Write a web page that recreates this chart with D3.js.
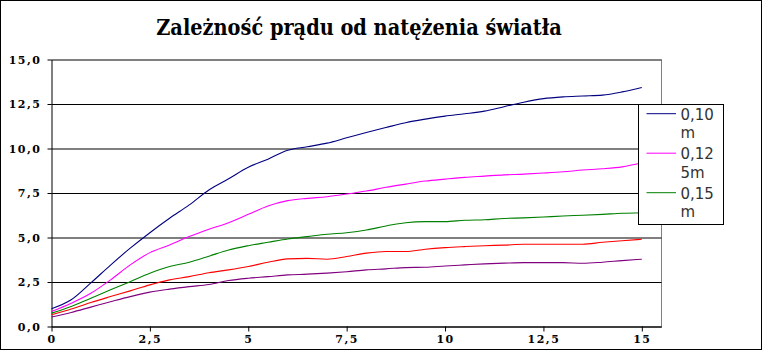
<!DOCTYPE html>
<html>
  <head>
    <meta charset="utf-8">
    <title>Zależność prądu od natężenia światła</title>
    <script src="https://cdn.jsdelivr.net/npm/d3@7"></script>
    <style>
      body { margin: 0; background: #fff; }
      svg { display: block; }
      .axis text { font-family: "DejaVu Serif", serif; font-weight: bold; font-size: 11px; letter-spacing: 1.5px; fill: #000; }
      .axis path, .axis line { stroke: #000; }
      .grid line { stroke: #000; }
      .grid path { display: none; }
      .legend text { font-family: "DejaVu Sans", sans-serif; font-size: 15px; fill: #333; }
    </style>
  </head>

  <body>
    <div id="container"></div>

    <script>
      // data
      xValues = [0, 0.5, 1, 1.5, 2, 2.5, 3, 3.5, 4, 4.5, 5, 5.5, 6, 6.5, 7, 7.5, 8, 8.5, 9, 9.5, 10, 10.5, 11, 11.5, 12, 12.5, 13, 13.5, 14, 14.5, 15];
      s010 = [1.0, 1.5, 2.45, 3.45, 4.4, 5.27, 6.08, 6.83, 7.67, 8.3, 8.95, 9.4, 9.9, 10.1, 10.3, 10.6, 10.9, 11.18, 11.45, 11.65, 11.82, 11.95, 12.1, 12.35, 12.6, 12.8, 12.9, 12.95, 13.0, 13.18, 13.43];
      s0125 = [0.84, 1.31, 1.87, 2.62, 3.46, 4.15, 4.58, 5.05, 5.46, 5.83, 6.3, 6.77, 7.07, 7.2, 7.29, 7.44, 7.61, 7.82, 8.0, 8.17, 8.28, 8.38, 8.45, 8.52, 8.56, 8.62, 8.69, 8.79, 8.86, 8.97, 9.2];
      s015 = [0.75, 1.12, 1.59, 2.06, 2.52, 2.99, 3.37, 3.61, 3.95, 4.3, 4.54, 4.73, 4.92, 5.05, 5.18, 5.27, 5.42, 5.65, 5.83, 5.89, 5.89, 5.97, 6.0, 6.07, 6.1, 6.15, 6.21, 6.25, 6.3, 6.36, 6.39];
      s4 = [0.66, 0.98, 1.35, 1.68, 2.0, 2.34, 2.62, 2.8, 3.02, 3.18, 3.37, 3.61, 3.8, 3.83, 3.78, 3.93, 4.12, 4.21, 4.21, 4.34, 4.43, 4.49, 4.54, 4.57, 4.62, 4.62, 4.62, 4.62, 4.73, 4.82, 4.9];
      s5 = [0.53, 0.79, 1.09, 1.39, 1.68, 1.93, 2.1, 2.24, 2.36, 2.58, 2.71, 2.8, 2.9, 2.94, 3.0, 3.08, 3.18, 3.24, 3.31, 3.33, 3.4, 3.46, 3.52, 3.56, 3.59, 3.59, 3.59, 3.55, 3.61, 3.7, 3.78];

      seriesNames = ["0,10 m", "0,125m", "0,15 m"];
      seriesValues = [s010, s0125, s015, s4, s5];
      colours = ["#000080", "#ff00ff", "#008000", "#ff0000", "#800080"];

      xTicks = [0, 2.5, 5, 7.5, 10, 12.5, 15];
      xTickLabels = ["0", "2,5", "5", "7,5", "10", "12,5", "15"];
      yTicks = [0, 2.5, 5, 7.5, 10, 12.5, 15];
      yTickLabels = ["0,0", "2,5", "5,0", "7,5", "10,0", "12,5", "15,0"];

      title = "Zależność prądu od natężenia światła";

      width = 763;
      height = 352;

      svg = d3.select("#container").append("svg")
        .attr("width", width)
        .attr("height", height);

      // outer frame
      svg.append("rect")
        .attr("x", 0.5).attr("y", 0.5)
        .attr("width", 761).attr("height", 349)
        .style("fill", "#fff")
        .style("stroke", "#000");

      svg.append("text")
        .attr("x", 359)
        .attr("y", 35)
        .attr("text-anchor", "middle")
        .style("font-family", "'DejaVu Serif Condensed', 'DejaVu Serif', serif")
        .style("font-weight", "bold")
        .style("font-size", "21.5px")
        .text(title);

      xScale = d3.scaleLinear().domain([0, 15.5]).range([51.5, 661.5]);
      yScale = d3.scaleLinear().domain([0, 15]).range([326.5, 59.5]);

      // right edge of the plot
      svg.append("line")
        .attr("x1", 661.5).attr("x2", 661.5)
        .attr("y1", 59.5).attr("y2", 326.5)
        .style("stroke", "#808080");

      // gridlines
      svg.append("g")
        .classed("grid", true)
        .attr("transform", "translate(" + xScale(0) + ",0)")
        .call(d3.axisLeft(yScale)
          .tickValues(yTicks)
          .tickSize(-(xScale.range()[1] - xScale(0)))
          .tickFormat(""));

      svg.append("g")
        .classed("axis y", true)
        .attr("transform", "translate(" + xScale(0) + ",0)")
        .call(d3.axisLeft(yScale)
          .tickValues(yTicks)
          .tickSizeInner(4)
          .tickSizeOuter(0)
          .tickPadding(6)
          .tickFormat((d, i) => yTickLabels[i]));

      svg.append("g")
        .classed("axis x", true)
        .attr("transform", "translate(0," + yScale(0) + ")")
        .call(d3.axisBottom(xScale)
          .tickValues(xTicks)
          .tickSizeInner(5)
          .tickSizeOuter(0)
          .tickPadding(4)
          .tickFormat((d, i) => xTickLabels[i]));

      // series
      line = d3.line()
        .x((d, i) => xScale(xValues[i]))
        .y(d => yScale(d))
        .curve(d3.curveMonotoneX);

      svg.append("g")
        .selectAll("path")
          .data(seriesValues)
        .enter().append("path")
          .attr("d", d => line(d))
          .style("fill", "none")
          .style("stroke", (d, i) => colours[i])
          .style("stroke-width", 1.1);

      // legend
      legend = svg.append("g").classed("legend", true);
      legend.append("rect")
        .attr("x", 638.5).attr("y", 104.5)
        .attr("width", 85).attr("height", 120)
        .style("fill", "#fff")
        .style("stroke", "#000");

      entries = legend.selectAll(".entry")
          .data(seriesNames)
        .enter().append("g")
          .attr("transform", (d, i) => "translate(0," + (113.7 + i * 39.5) + ")");

      entries.append("line")
        .attr("x1", 646.5).attr("x2", 676)
        .attr("y1", 0).attr("y2", 0)
        .style("stroke", (d, i) => colours[i]);

      entries.append("text")
        .attr("x", 680.5)
        .attr("y", 5.8)
        .text(d => d.slice(0, 4));

      entries.append("text")
        .attr("x", 680.5)
        .attr("y", 24.6)
        .text(d => d.slice(4).trim());
    </script>
  </body>
</html>
